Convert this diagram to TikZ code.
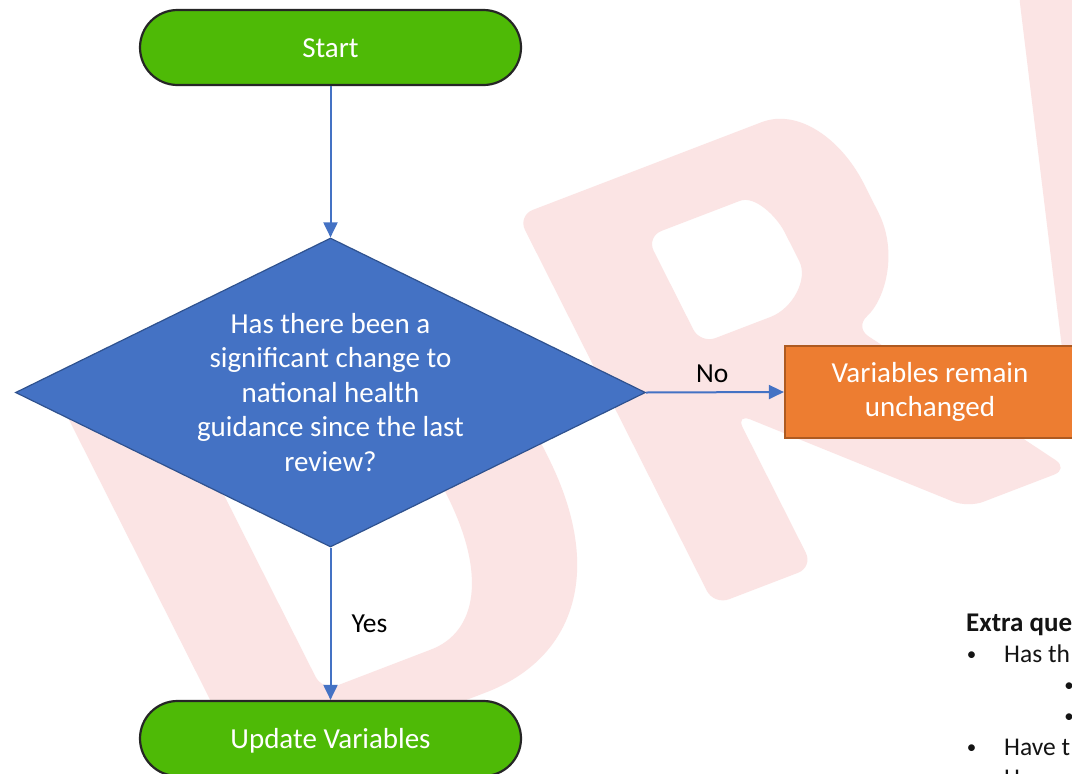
\documentclass[tikz,border=0pt]{standalone}
\usepackage{fontspec}
\setmainfont{Carlito}
\usetikzlibrary{shapes.geometric,shapes.misc,arrows.meta}
\definecolor{wmpink}{RGB}{251,228,228}
\definecolor{termgreen}{RGB}{78,186,6}
\definecolor{termborder}{RGB}{38,38,38}
\definecolor{decblue}{RGB}{68,114,196}
\definecolor{decborder}{RGB}{47,82,143}
\definecolor{procorange}{RGB}{237,125,49}
\definecolor{procborder}{RGB}{174,90,33}
\definecolor{arrowblue}{RGB}{68,114,196}
\definecolor{listink}{RGB}{20,20,20}
\begin{document}
\begin{tikzpicture}[x=1pt,y=-1pt,
  terminal/.style={rounded rectangle, draw=termborder, line width=2.2pt, fill=termgreen,
    minimum width=381pt, minimum height=75pt, inner sep=0pt, text=white,
    text height=19pt, text depth=0pt, font=\fontsize{29}{34.5}\selectfont},
  decision/.style={diamond, draw=decborder, line width=1.2pt, fill=decblue, shape aspect=2.04,
    minimum width=630pt, minimum height=309pt, inner sep=0pt, text=white, align=center,
    font=\fontsize{29}{34.5}\selectfont},
  process/.style={rectangle, draw=procborder, line width=2.2pt, fill=procorange,
    minimum width=290pt, minimum height=92pt, inner sep=0pt, text=white, align=center,
    font=\fontsize{29}{34.5}\selectfont},
  flow/.style={draw=arrowblue, line width=2pt, -{Triangle[length=15pt,width=14pt]}},
  edgelabel/.style={inner sep=0pt, text=black, font=\fontsize{27.5}{33}\selectfont},
  listtext/.style={inner sep=0pt, anchor=base west, text=listink, font=\fontsize{25.5}{31}\selectfont},
  listbullet/.style={inner sep=0pt, anchor=base, text=listink, font=\fontsize{19}{31}\selectfont},
  wm/.style={fill=wmpink, even odd rule, rounded corners=16pt}]
\useasboundingbox (0,0) rectangle (1072,774);
\fill[white] (0,0) rectangle (1072,774);
% watermark
\begin{scope}
\clip (0,0) rectangle (1072,774);
\begin{scope}[shift={(714,605)}, x={(0.934pt,0.358pt)}, y={(-0.450pt,0.893pt)}]
  % D
  \path[wm] (-495,0) -- (-495,436) -- (-260,436) .. controls (-150,436) and (-82,350) .. (-82,215)
     .. controls (-82,70) and (-150,0) .. (-260,0) -- cycle
     (-390,60) -- (-390,368) -- (-290,368) .. controls (-225,368) and (-190,320) .. (-190,215)
     .. controls (-190,110) and (-225,60) .. (-290,60) -- cycle;
  % R
  \path[wm] (0,0) -- (0,436) -- (245,436) .. controls (300,436) and (325,392) .. (325,325)
     .. controls (325,265) and (292,225) .. (252,210) -- (380,0) -- (272,0) -- (106,172) -- (106,0) -- cycle
     (106,250) -- (106,370) -- (190,370) .. controls (222,370) and (232,342) .. (232,308)
     .. controls (232,272) and (205,250) .. (165,250) -- cycle;
  % A
  \path[wm] (388,0) -- (552,470) -- (665,470) -- (820,0) -- (708,0) -- (674,105) -- (528,105) -- (495,0) -- cycle
     (556,195) -- (644,195) -- (600,340) -- cycle;
\end{scope}
\end{scope}
% flowchart
\node[terminal] (start) at (330.5,47.5) {Start};
\node[decision] (dec) at (330.5,392.5) {Has there been a\\significant change to\\national health\\guidance since the last\\review?};
\node[process] (proc) at (930,392) {Variables remain\\unchanged};
\node[terminal] (upd) at (330.5,738.5) {Update Variables};
\draw[flow] (start.south) -- (dec.north);
\draw[flow] (dec.east) -- node[edgelabel, pos=0.48, above=9pt] (nolab) {No} (proc.west);
\draw[flow] (dec.south) -- node[edgelabel, midway, right=20pt] (yeslab) {Yes} (upd.north);
% extra questions list
\node[listtext, font=\fontsize{27}{31}\selectfont\bfseries] (exq) at (966,631) {Extra que};
\node[listbullet] (b1) at (971.5,660) {•};
\node[listtext] (q1) at (1004,662) {Has th};
\node[listbullet] (b1a) at (1069,691) {•};
\node[listbullet] (b1b) at (1069,722) {•};
\node[listbullet] (b2) at (971.5,753) {•};
\node[listtext] (q2) at (1004,755) {Have t};
\node[listtext] (q3) at (1004,786) {H};
\end{tikzpicture}
\end{document}
